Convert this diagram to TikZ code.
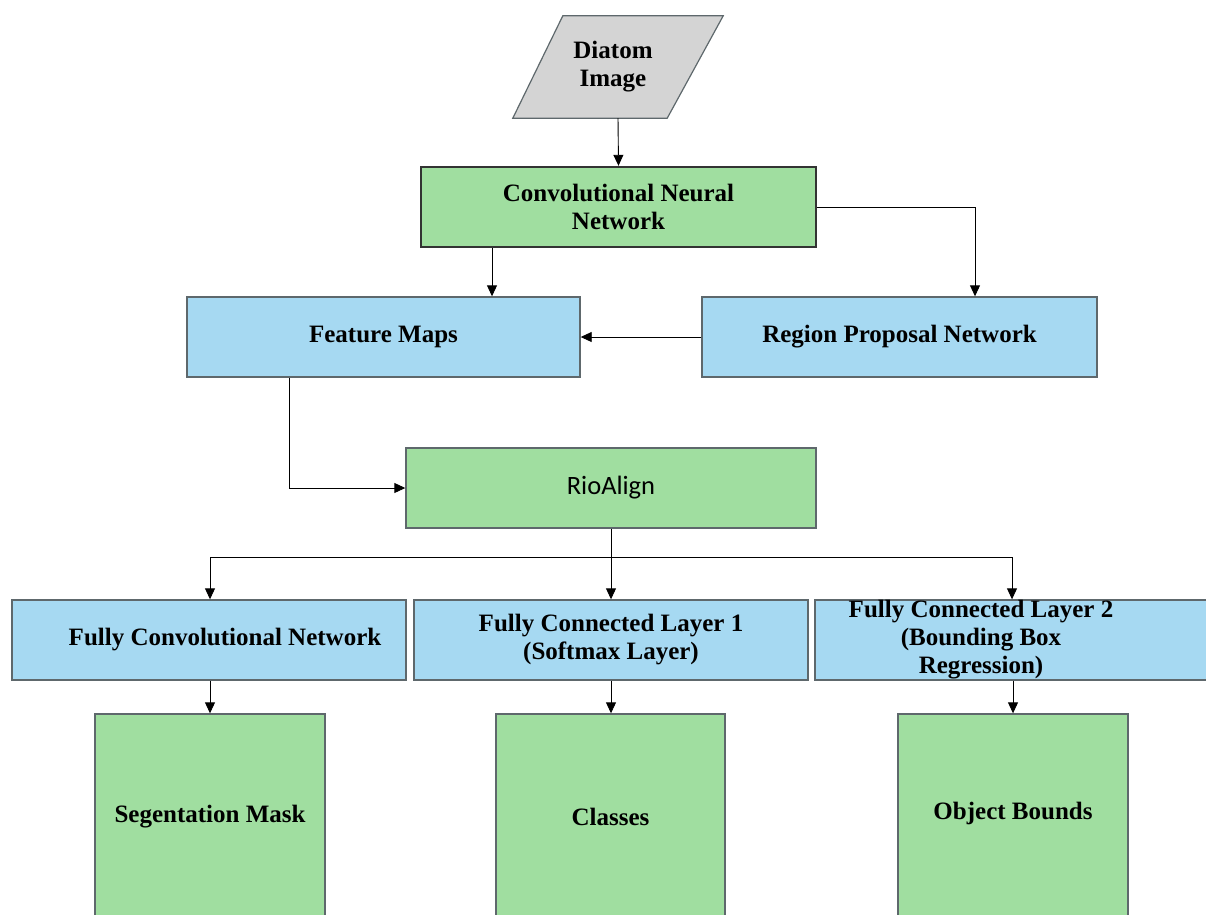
\documentclass[tikz,border=0pt]{standalone}
\usepackage{fontspec}
\setmainfont{Liberation Serif}
\newfontfamily\calib{Carlito}
\usetikzlibrary{arrows.meta,calc}
\definecolor{boxgreen}{HTML}{A0DEA0}
\definecolor{boxblue}{HTML}{A6D9F2}
\definecolor{boxgray}{HTML}{D4D4D4}
\definecolor{edgegray}{HTML}{5E686C}
\tikzset{
  bx/.style={rectangle, draw=edgegray, line width=1.4pt, inner sep=0pt, minimum height=80pt,
    align=center, font=\fontsize{25}{28}\selectfont\bfseries},
  gbox/.style={bx, fill=boxgreen},
  bbox/.style={bx, fill=boxblue},
  txt/.style={align=center, inner sep=0pt, font=\fontsize{25}{28}\selectfont\bfseries},
  arr/.style={draw=black, line width=0.9pt, -{Triangle[length=11pt,width=10pt]}},
  ln/.style={draw=black, line width=0.9pt}
}
\begin{document}
\begin{tikzpicture}[x=1pt,y=-1pt]
\useasboundingbox (0,0) rectangle (1206,914);
% input parallelogram
\node[minimum width=210pt, minimum height=102pt, inner sep=0pt] (dia) at (618,67) {};
\draw[draw=edgegray, line width=1.2pt, fill=boxgray]
  (dia.south west) -- ([xshift=-56pt]dia.south east) -- (dia.north east) -- ([xshift=50pt]dia.north west) -- cycle;
\node[txt, xshift=-5pt] (diat) at (dia.center) {Diatom\\Image};
% boxes
\node[gbox, draw=black!80, line width=2.4pt, minimum width=395pt] (cnn) at (618.5,207) {Convolutional Neural\\Network};
\node[bbox, minimum width=393pt] (fm) at (383.5,337) {Feature Maps};
\node[bbox, minimum width=395pt] (rpn) at (899.5,337) {Region Proposal Network};
\node[gbox, minimum width=410pt, font=\fontsize{26.5}{28}\selectfont\calib] (rio) at (611,488) {RioAlign};
\node[bbox, minimum width=394pt] (b1) at (209,640) {};
\node[txt, xshift=16pt] (b1t) at (b1.center) {Fully Convolutional Network};
\node[bbox, minimum width=394pt] (b2) at (611,640) {Fully Connected Layer 1\\(Softmax Layer)};
\node[bbox, minimum width=394pt] (b3) at (1012,640) {};
\node[txt, xshift=-31pt] (b3t) at (b3.center) {Fully Connected Layer 2\\(Bounding Box\\Regression)};
\node[gbox, minimum width=230pt, minimum height=206pt] (g1) at (210,817) {Segentation Mask};
\node[gbox, minimum width=229pt, minimum height=206pt] (g2) at (610.5,817) {Classes};
\node[gbox, minimum width=230pt, minimum height=206pt] (g3) at (1013,817) {};
\node[txt] (g3t) at ([yshift=4pt]g3.center) {Object Bounds};
% connectors
\draw[arr] (dia.south) -- (cnn.north);
\draw[arr] ([xshift=-126.5pt]cnn.south) -- ([xshift=-126.5pt]cnn.south |- fm.north);
\draw[arr] (cnn.east) -| ([xshift=75.5pt]rpn.north);
\draw[arr] (rpn.west) -- (fm.east);
\draw[arr] ([xshift=-94.5pt]fm.south) |- (rio.west);
\coordinate (sp) at ([yshift=-29pt]rio.south);
\draw[ln] (rio.south) -- (sp);
\draw[arr] (sp) -- (sp |- b2.north);
\draw[arr] (sp) -| ([xshift=1pt]b1.north);
\draw[arr] (sp) -| (b3.north);
\draw[arr] ([xshift=1pt]b1.south) -- (g1.north);
\draw[arr] (b2.south) -- (b2.south |- g2.north);
\draw[arr] ([xshift=1pt]b3.south) -- (g3.north);
\end{tikzpicture}
\end{document}
